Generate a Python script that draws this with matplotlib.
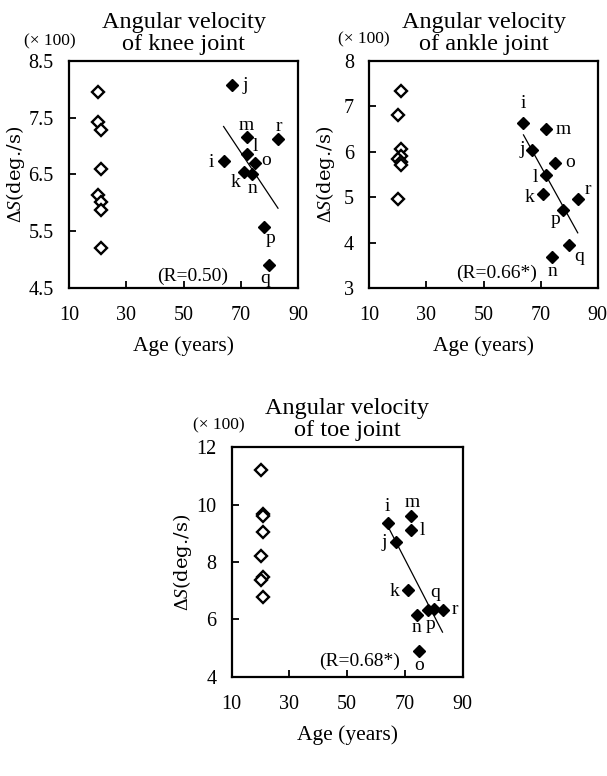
import matplotlib
matplotlib.use("Agg")
import matplotlib.pyplot as plt
import numpy as np

plt.rcParams['font.family'] = ['Liberation Serif', 'DejaVu Serif']
plt.rcParams['mathtext.fontset'] = 'custom'
plt.rcParams['mathtext.rm'] = 'Liberation Serif'
plt.rcParams['mathtext.it'] = 'Liberation Serif:italic'

# elderly subjects i..r and their ages
subjects = ['i', 'j', 'k', 'l', 'm', 'n', 'o', 'p', 'q', 'r']
old_age = [64, 67, 71, 72, 72, 74, 75, 78, 80, 83]

# knee joint (x100 deg./s)
knee_young_age = [20, 20, 21, 21, 20, 21, 21, 21]
knee_young = [7.95, 7.42, 7.29, 6.59, 6.13, 6.02, 5.87, 5.21]
knee_old = [6.74, 8.07, 6.54, 6.86, 7.16, 6.51, 6.71, 5.57, 4.90, 7.12]

# ankle joint
ankle_young_age = [21, 20, 21, 21, 20, 21, 21, 20]
ankle_young = [7.33, 6.80, 6.06, 5.90, 5.84, 5.77, 5.70, 4.96]
ankle_old = [6.64, 6.05, 5.07, 5.49, 6.50, 3.69, 5.76, 4.71, 3.95, 4.96]

# toe joint
toe_young_age = [20, 21, 21, 21, 20, 21, 20, 21]
toe_young = [11.20, 9.66, 9.62, 9.06, 8.22, 7.48, 7.38, 6.79]
toe_old = [9.37, 8.69, 7.03, 9.12, 9.62, 6.15, 4.88, 6.33, 6.36, 6.33]

titles = ['Angular velocity\nof knee joint', 'Angular velocity\nof ankle joint',
          'Angular velocity\nof toe joint']
r_texts = ['(R=0.50)', '(R=0.66*)', '(R=0.68*)']

# label offsets in pixels (dx, dy; dy down)
knee_off = {'i': (-12, 2), 'j': (13, 0), 'k': (-8, 10), 'l': (9, -8), 'm': (0, -12),
            'n': (0, 15), 'o': (11, -2), 'p': (7, 11), 'q': (-4, 13), 'r': (1, -13)}
ankle_off = {'i': (0, -19), 'j': (-10, 0), 'k': (-14, 3), 'l': (-11, 3), 'm': (17, 0),
             'n': (0, 15), 'o': (15, 0), 'p': (-8, 9), 'q': (10, 12), 'r': (10, -9)}
toe_off = {'i': (0, -16), 'j': (-12, 0), 'k': (-13, 2), 'l': (12, 1), 'm': (2, -13),
           'n': (0, 12), 'o': (0, 14), 'p': (2, 15), 'q': (1, -17), 'r': (12, 0)}

fig = plt.figure(figsize=(6.07, 7.76), dpi=100)

panels = [
    dict(rect=[0.1137, 0.6289, 0.3773, 0.2925], ya=knee_young_age, yv=knee_young, ov=knee_old,
         ylim=(4.5, 8.5), yticks=np.arange(4.5, 8.6, 1.0), fmt='%.1f', off=knee_off,
         mult=(-0.083, 1.085), rpos=(0.539, 0.05), ylab_x=-0.183),
    dict(rect=[0.6084, 0.6289, 0.3763, 0.2925], ya=ankle_young_age, yv=ankle_young, ov=ankle_old,
         ylim=(3, 8), yticks=np.arange(3, 8.1, 1), fmt='%d', off=ankle_off,
         mult=(-0.023, 1.094), rpos=(0.558, 0.063), ylab_x=-0.14),
    dict(rect=[0.3817, 0.1280, 0.3806, 0.2956], ya=toe_young_age, yv=toe_young, ov=toe_old,
         ylim=(4, 12), yticks=np.arange(4, 12.1, 2), fmt='%d', off=toe_off,
         mult=(-0.056, 1.097), rpos=(0.554, 0.065), ylab_x=-0.165),
]

for p, title, rtxt in zip(panels, titles, r_texts):
    ax = fig.add_axes(p['rect'])
    ax.plot(p['ya'], p['yv'], linestyle='none', marker='D', markersize=6.5,
            markerfacecolor='white', markeredgecolor='black', markeredgewidth=1.7)
    ax.plot(old_age, p['ov'], linestyle='none', marker='D', markersize=6.5,
            markerfacecolor='black', markeredgecolor='black')
    # regression line over the elderly group
    coef = np.polyfit(old_age, p['ov'], 1)
    xx = np.array([min(old_age), max(old_age)])
    ax.plot(xx, np.polyval(coef, xx), color='black', linewidth=0.9)
    for s, x, y in zip(subjects, old_age, p['ov']):
        dx, dy = p['off'][s]
        ax.annotate(s, (x, y), xytext=(dx, -dy), textcoords='offset pixels',
                    ha='center', va='center', fontsize=14)
    ax.text(p['rpos'][0], p['rpos'][1], rtxt, transform=ax.transAxes,
            ha='center', va='center', fontsize=14)
    ax.text(p['mult'][0], p['mult'][1], '(× 100)', transform=ax.transAxes,
            ha='center', va='center', fontsize=12.5)
    ax.set_xlim(10, 90)
    ax.set_xticks([10, 30, 50, 70, 90])
    ax.set_ylim(*p['ylim'])
    ax.set_yticks(p['yticks'])
    ax.set_yticklabels([p['fmt'] % v for v in p['yticks']])
    ax.tick_params(direction='in', length=5, width=1.3, labelsize=14.5, pad=11,
                   top=False, right=False)
    ax.tick_params(axis='x', pad=13)
    for sp in ax.spines.values():
        sp.set_linewidth(1.6)
    ax.set_title(title, fontsize=17.5, pad=8, linespacing=1.05)
    ax.set_xlabel('Age (years)', fontsize=15.5, labelpad=8)
    ax.set_ylabel(r'$\mathit{\Delta S}$(deg./s)', fontsize=14, family='DejaVu Serif')
    ax.yaxis.set_label_coords(p['ylab_x'], 0.5)

plt.savefig('out.png', dpi=100)
